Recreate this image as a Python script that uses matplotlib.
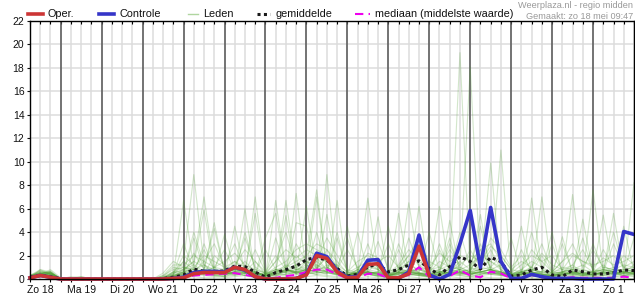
import numpy as np
import matplotlib
matplotlib.use('Agg')
import matplotlib.pyplot as plt
from matplotlib.lines import Line2D

plt.rcParams['font.family'] = ['Liberation Sans', 'DejaVu Sans']

# 6-hourly values, first point = Zo 18 06:00
day_labels = ['Zo 18', 'Ma 19', 'Di 20', 'Wo 21', 'Do 22', 'Vr 23', 'Za 24', 'Zo 25',
              'Ma 26', 'Di 27', 'Wo 28', 'Do 29', 'Vr 30', 'Za 31', 'Zo 1']

oper = [0.1, 0.3, 0.15, 0, 0, 0, 0, 0, 0, 0, 0, 0, 0, 0, 0.05,
        0.1, 0.45, 0.55, 0.55, 0.55, 1.0, 0.8, 0.2, 0, 0, 0, 0.05,
        0.35, 2.0, 1.75, 0.6, 0.1, 0.15, 1.25, 1.3, 0.1, 0.1, 0.45, 2.8, 0.3]

controle = [0.1, 0.3, 0.15, 0, 0, 0, 0, 0, 0, 0, 0, 0, 0, 0, 0.05,
            0.15, 0.55, 0.65, 0.65, 0.6, 1.0, 0.75, 0.2, 0, 0, 0, 0.05,
            0.4, 2.2, 1.9, 0.7, 0.15, 0.2, 1.6, 1.65, 0.1, 0.05, 0.6, 3.75,
            0.35, 0, 0.4, 3.0, 5.85, 1.0, 6.1, 1.5, 0.05, 0.05, 0.4, 0.2,
            0.05, 0.05, 0.05, 0, 0, 0, 0, 4.05, 3.8]

gemiddelde = [0.15, 0.3, 0.2, 0.02, 0, 0, 0, 0, 0, 0, 0, 0, 0, 0.05, 0.15,
              0.35, 0.85, 0.65, 0.62, 0.7, 1.1, 1.05, 0.6, 0.15, 0.55, 0.8, 1.1,
              1.65, 1.85, 1.6, 0.9, 0.25, 0.4, 1.05, 1.25, 0.6, 0.8, 1.2, 1.55,
              0.9, 0.35, 1.05, 1.9, 1.5, 0.85, 1.85, 1.48, 0.25, 0.34, 0.77, 1.0,
              0.34, 0.2, 0.77, 0.62, 0.43, 0.43, 0.54, 0.77, 0.72]

mediaan = [0.1, 0.25, 0.15, 0, 0, 0, 0, 0, 0, 0, 0, 0, 0, 0, 0,
           0.1, 0.3, 0.35, 0.4, 0.45, 0.5, 0.35, 0.2, 0.05, 0.1, 0.25, 0.35,
           0.6, 0.8, 0.8, 0.4, 0.05, 0.1, 0.45, 0.42, 0.1, 0.1, 0.35, 1.0,
           0.2, 0.05, 0.25, 0.75, 0.3, 0.15, 0.62, 0.48, 0.05, 0.1, 0.34, 0.15,
           0.1, 0.05, 0.15, 0.1, 0.1, 0.1, 0.1, 0.2, 0.1]

leden = [
    [0.2, 0.5, 0.3, 0, 0, 0.1, 0, 0, 0, 0, 0, 0, 0, 0.2, 0.6, 1.5, 8.9, 1.2, 0.4, 0.3, 0.8, 1.5, 0.6,
     0.2, 0.5, 1.0, 2.0, 1.2, 0.8, 2.5, 1.0, 0.3, 0.5, 1.2, 0.8, 0.2, 0.6, 1.5, 0.5, 0.3, 0.8, 2.0, 0.6,
     0.4, 1.0, 2.5, 0.8, 0.2, 0.5, 1.0, 0.4, 0.2, 0.6, 1.2, 0.5, 0.3, 0.7, 1.0, 0.6, 0.8],
    [0.1, 0.8, 0.4, 0, 0, 0, 0, 0, 0, 0, 0, 0, 0, 0, 0.3, 6.7, 1.0, 0.5, 0.3, 0.2, 0.5, 6.0, 0.3,
     0.1, 0.4, 0.6, 1.2, 2.0, 7.6, 1.0, 0.5, 0.2, 0.8, 0.5, 0.3, 0.1, 0.4, 6.5, 1.0, 0.5, 0.3, 0.6, 1.5,
     0.8, 2.0, 0.6, 0.3, 0.2, 0.3, 6.9, 0.8, 0.2, 0.4, 0.3, 0.5, 0.6, 1.2, 0.5, 0.3, 0.4],
    [0.3, 0.4, 0.8, 0.1, 0, 0, 0, 0, 0, 0, 0, 0, 0, 0.1, 0.5, 0.8, 1.5, 7.0, 1.0, 0.4, 0.6, 0.3, 7.0,
     0.5, 0.2, 0.8, 0.6, 1.5, 0.6, 0.8, 0.4, 0.2, 0.5, 6.9, 0.7, 0.3, 0.5, 0.8, 0.4, 0.2, 0.5, 1.0, 19.3,
     0.5, 0.6, 0.8, 0.4, 0.1, 0.4, 0.6, 0.3, 0.2, 0.5, 7.2, 0.3, 0.4, 0.6, 0.5, 0.3, 0.5],
    [0.1, 0.3, 0.2, 0, 0.2, 0.1, 0, 0, 0, 0, 0, 0, 0, 0.3, 0.8, 1.0, 0.6, 0.8, 4.8, 0.6, 0.4, 0.3, 0.2,
     0.2, 6.7, 0.8, 0.5, 0.8, 1.2, 0.6, 0.3, 0.2, 0.4, 0.8, 5.3, 0.4, 0.6, 0.3, 0.5, 0.3, 0.4, 0.6, 1.2,
     18.1, 0.6, 0.8, 0.4, 0.3, 0.5, 0.4, 7.0, 0.5, 0.3, 0.6, 0.4, 0.5, 0.3, 0.8, 0.6, 0.4],
    [0.2, 0.6, 0.5, 0, 0, 0, 0, 0, 0, 0, 0, 0, 0, 0, 0.2, 0.5, 3.5, 0.8, 0.6, 3.8, 0.8, 0.5, 0.4,
     0.3, 0.6, 6.7, 0.8, 0.6, 0.4, 8.9, 0.6, 0.3, 0.8, 0.5, 0.2, 0.1, 0.6, 0.4, 6.2, 0.4, 0.6, 0.3, 0.5,
     0.3, 0.8, 9.9, 0.6, 0.2, 0.6, 0.4, 0.3, 0.3, 0.5, 0.4, 0.8, 0.6, 5.45, 0.6, 0.3, 0.5],
    [0.1, 0.2, 0.6, 0, 0, 0.2, 0, 0, 0, 0, 0, 0, 0, 0, 0.4, 3.0, 0.8, 0.5, 0.3, 0.2, 4.5, 0.6, 0.4,
     0.3, 0.5, 0.4, 7.3, 0.6, 0.8, 1.0, 0.5, 0.2, 4.0, 0.6, 0.4, 0.3, 0.5, 0.6, 0.8, 0.5, 6.2, 0.4, 0.6,
     0.4, 0.5, 0.6, 11.0, 0.2, 0.4, 0.6, 0.4, 0.3, 0.4, 0.5, 0.3, 0.4, 0.6, 0.5, 0.4, 8.2],
    [0.2, 0.4, 0.3, 0, 0, 0, 0, 0, 0, 0, 0, 0, 0, 0.2, 1.0, 0.8, 1.2, 5.9, 0.6, 0.4, 0.3, 0.5, 0.6,
     0.2, 0.4, 0.8, 0.6, 6.2, 0.8, 0.6, 0.4, 0.2, 0.4, 0.6, 0.5, 4.5, 0.8, 0.4, 0.3, 0.2, 0.3, 5.0, 0.5,
     0.3, 0.4, 0.6, 0.4, 0.2, 0.4, 0.3, 0.2, 0.2, 0.3, 0.5, 5.1, 0.6, 0.4, 0.3, 0.5, 0.6],
    [0.1, 0.5, 0.4, 0, 0, 0, 0, 0, 0, 0, 0, 0, 0, 0, 0.1, 0.4, 0.6, 0.8, 4.3, 0.6, 0.5, 4.0, 0.8,
     0.5, 0.3, 0.4, 0.6, 0.8, 7.0, 0.8, 0.5, 4.5, 0.6, 0.4, 0.3, 0.2, 5.6, 0.6, 0.4, 0.3, 0.4, 0.6, 0.4,
     0.6, 5.5, 0.4, 0.3, 0.2, 4.5, 0.6, 0.4, 0.3, 0.5, 0.4, 0.3, 7.6, 0.6, 0.4, 0.5, 0.6],
    [0.3, 0.6, 0.4, 0, 0, 0, 0, 0, 0, 0, 0, 0, 0, 0, 0.3, 0.6, 0.8, 2.5, 0.8, 0.6, 0.8, 0.6, 5.6,
     0.3, 0.6, 5.4, 0.4, 0.5, 0.6, 5.5, 0.8, 0.3, 0.6, 0.5, 0.4, 0.3, 0.4, 0.8, 0.6, 4.0, 0.6, 0.5, 0.4,
     0.6, 0.8, 6.0, 0.5, 3.5, 0.5, 0.3, 0.2, 0.3, 0.4, 0.6, 0.5, 0.4, 0.5, 5.6, 0.4, 0.5],
    [0.2, 0.3, 0.5, 0, 0.1, 0.2, 0, 0, 0, 0, 0, 0, 0, 0.1, 0.6, 0.6, 0.5, 0.4, 0.6, 0.5, 0.4, 0.6, 0.4,
     3.5, 5.6, 0.6, 0.4, 0.4, 0.6, 0.4, 6.7, 0.3, 0.5, 0.4, 0.6, 0.4, 0.6, 0.4, 0.5, 0.3, 0.5, 0.4, 0.6,
     0.4, 0.6, 0.5, 0.4, 0.3, 0.4, 0.5, 0.6, 4.0, 0.5, 0.4, 0.3, 0.4, 0.5, 0.4, 4.5, 0.6],
    [0.2, 0.5, 0.6, 0, 0, 0, 0, 0, 0, 0, 0, 0, 0, 0, 0.2, 0.3, 0.5, 0.8, 0.6, 0.4, 0.6, 0.5, 0.4,
     0.3, 0.4, 0.6, 4.8, 4.5, 0.6, 0.5, 0.4, 0.3, 0.4, 0.5, 0.6, 0.3, 0.5, 0.6, 0.4, 0.2, 0.4, 0.5, 0.6,
     0.5, 0.4, 0.6, 0.5, 0.3, 0.5, 0.6, 0.4, 0.3, 3.6, 0.5, 0.4, 0.3, 0.4, 0.5, 0.6, 0.5],
    [0.1, 0.2, 0.2, 0, 0, 0, 0, 0, 0, 0, 0, 0, 0, 0, 0, 0.2, 0.4, 0.3, 0.2, 0.4, 0.6, 0.3, 0.2,
     0.2, 0.4, 0.3, 0.5, 0.6, 0.4, 0.3, 0.2, 0.1, 0.3, 0.4, 0.2, 0.2, 0.3, 0.5, 0.3, 0.2, 0.3, 0.4, 0.3,
     0.2, 0.3, 0.4, 0.3, 0.1, 0.3, 0.2, 0.2, 0.2, 0.3, 0.2, 0.3, 0.2, 0.3, 0.2, 0.3, 0.3],
    [0.3, 0.7, 0.5, 0, 0, 0, 0, 0, 0, 0, 0, 0, 0, 0.3, 1.2, 1.2, 2.0, 1.5, 1.0, 1.5, 2.2, 1.2, 0.8,
     0.5, 1.5, 2.5, 1.8, 2.5, 2.0, 1.5, 1.2, 0.6, 1.5, 2.0, 1.4, 0.5, 1.2, 2.5, 1.5, 1.0, 2.2, 1.5, 2.0,
     1.5, 2.5, 3.0, 1.5, 0.5, 1.2, 2.0, 1.5, 0.6, 1.5, 2.2, 1.5, 1.0, 1.8, 1.2, 1.5, 2.0],
    [0.2, 0.4, 0.6, 0, 0, 0, 0, 0, 0, 0, 0, 0, 0, 0, 0.5, 0.8, 1.5, 1.0, 0.6, 0.8, 1.2, 2.5, 1.5,
     0.4, 1.0, 1.5, 2.5, 3.0, 2.5, 2.0, 1.0, 0.4, 0.8, 2.2, 1.8, 0.3, 0.8, 1.5, 3.0, 1.5, 1.0, 2.5, 1.2,
     2.0, 1.5, 2.8, 2.0, 0.8, 1.5, 1.0, 2.2, 1.2, 0.8, 2.0, 1.5, 1.2, 1.5, 2.0, 1.0, 1.5],
    [0.2, 0.3, 0.4, 0, 0, 0, 0, 0, 0, 0, 0, 0, 0, 0.2, 0.4, 0.6, 1.0, 2.0, 1.5, 1.0, 1.5, 1.0, 0.6,
     0.3, 0.8, 1.0, 1.5, 2.0, 3.0, 2.5, 1.5, 0.5, 1.0, 1.5, 1.0, 0.4, 1.0, 2.0, 1.2, 0.6, 1.5, 1.0, 0.8,
     1.2, 2.0, 1.5, 1.0, 0.4, 0.8, 1.5, 1.0, 0.5, 1.0, 0.8, 1.2, 0.6, 1.0, 0.8, 1.2, 1.0],
    [0.2, 0.5, 0.3, 0, 0, 0, 0, 0, 0, 0, 0, 0, 0, 0.5, 1.5, 1.0, 0.8, 1.2, 0.8, 0.6, 1.0, 0.8, 0.5,
     0.4, 0.8, 0.6, 1.0, 1.5, 1.0, 1.8, 0.8, 0.3, 0.6, 1.0, 0.8, 0.2, 0.8, 1.2, 0.8, 0.5, 0.8, 1.2, 0.8,
     0.6, 1.2, 1.5, 0.8, 0.3, 0.6, 0.8, 0.6, 0.4, 0.6, 1.0, 0.8, 0.5, 0.8, 0.6, 0.8, 1.0],
    [0.1, 0.4, 0.7, 0, 0, 0, 0, 0, 0, 0, 0, 0, 0, 0, 0.3, 0.5, 0.6, 0.4, 2.0, 1.2, 3.0, 0.8, 0.5,
     0.2, 0.6, 1.2, 0.8, 1.0, 1.5, 3.5, 2.0, 0.8, 0.5, 0.6, 1.5, 2.0, 1.0, 0.6, 0.8, 0.5, 2.5, 0.8, 0.6,
     0.8, 1.0, 3.5, 2.5, 1.0, 2.0, 0.8, 0.6, 0.6, 1.5, 3.0, 1.0, 2.5, 1.0, 0.8, 2.0, 1.2],
    [0.3, 0.5, 0.2, 0, 0, 0, 0, 0, 0, 0, 0, 0, 0, 0, 0.2, 0.4, 2.2, 0.8, 0.5, 0.3, 0.5, 0.6, 1.5,
     0.6, 2.0, 0.8, 0.5, 0.8, 0.6, 1.2, 0.8, 2.5, 1.0, 0.6, 0.4, 0.3, 3.0, 1.0, 0.5, 0.4, 0.6, 3.0, 1.0,
     0.6, 0.8, 1.0, 2.0, 0.8, 0.6, 2.5, 1.5, 2.0, 0.8, 0.6, 0.5, 0.6, 2.5, 1.0, 0.6, 0.8],
    [0.2, 0.6, 0.5, 0, 0, 0, 0, 0, 0, 0, 0, 0, 0, 0, 0.1, 0.3, 0.4, 0.6, 0.4, 0.5, 0.8, 1.0, 0.6,
     0.3, 0.5, 0.8, 1.2, 0.8, 1.0, 0.6, 0.4, 0.2, 0.4, 0.8, 0.6, 0.3, 0.4, 0.6, 0.4, 0.2, 0.4, 0.6, 0.8,
     0.4, 0.6, 0.8, 0.6, 0.2, 0.4, 0.6, 0.5, 0.3, 0.4, 0.6, 0.4, 0.3, 0.5, 0.4, 0.6, 0.5],
    [0.1, 0.3, 0.3, 0, 0, 0, 0, 0, 0, 0, 0, 0, 0, 0, 0.1, 0.3, 0.5, 0.4, 0.3, 0.2, 0.3, 0.5, 0.4,
     0.1, 0.3, 0.4, 0.6, 0.5, 0.4, 0.8, 0.6, 0.1, 0.3, 0.4, 0.3, 0.1, 0.2, 0.4, 0.3, 0.1, 0.3, 0.4, 0.3,
     0.2, 0.4, 0.5, 0.4, 0.1, 0.2, 0.3, 0.2, 0.1, 0.2, 0.3, 0.2, 0.2, 0.3, 0.2, 0.3, 0.2],
    [0.2, 0.4, 0.5, 0, 0, 0, 0, 0, 0, 0, 0, 0, 0, 0, 0.4, 2.0, 1.2, 0.6, 0.8, 0.6, 0.8, 3.5, 1.0,
     0.5, 0.8, 0.6, 3.0, 1.5, 1.2, 0.8, 0.6, 0.3, 0.6, 3.0, 0.8, 0.4, 0.8, 0.6, 1.0, 0.8, 1.0, 0.6, 0.8,
     2.5, 1.0, 0.8, 1.2, 0.4, 0.6, 1.0, 3.0, 0.6, 0.8, 1.2, 2.5, 0.8, 0.6, 3.0, 1.0, 0.8],
    [0.2, 0.5, 0.4, 0, 0, 0, 0, 0, 0, 0, 0, 0, 0, 0, 0.2, 0.6, 4.0, 1.2, 0.6, 0.4, 0.6, 0.5, 0.4,
     2.5, 0.8, 0.5, 0.6, 0.8, 0.6, 0.5, 3.5, 0.6, 0.4, 0.6, 0.5, 0.3, 0.6, 3.5, 1.0, 0.5, 0.6, 0.8, 4.0,
     1.0, 0.6, 0.8, 0.5, 0.4, 2.5, 0.6, 0.4, 0.5, 0.6, 0.8, 0.6, 0.4, 0.6, 0.8, 0.6, 3.5],
    [0.3, 0.8, 0.6, 0, 0, 0.1, 0, 0, 0, 0, 0, 0, 0, 0, 0.3, 0.6, 0.8, 0.6, 1.0, 0.8, 1.5, 0.6, 0.4,
     0.3, 0.6, 0.8, 0.5, 0.6, 1.5, 0.8, 0.4, 0.3, 0.5, 0.6, 0.4, 0.3, 0.6, 0.8, 0.5, 0.4, 0.6, 0.5, 0.6,
     0.5, 0.6, 0.8, 0.6, 0.3, 0.6, 0.5, 0.4, 0.3, 0.6, 0.4, 0.5, 0.4, 0.6, 0.5, 0.6, 0.5],
    [0.1, 0.2, 0.1, 0, 0, 0, 0, 0, 0, 0, 0, 0, 0, 0, 0, 0.1, 0.2, 0.1, 0.1, 0.1, 0.2, 0.3, 0.1,
     0, 0.1, 0.2, 0.1, 0.2, 0.3, 0.2, 0.1, 0, 0.1, 0.2, 0.1, 0, 0.1, 0.2, 0.1, 0, 0.1, 0.2, 0.1,
     0.1, 0.2, 0.1, 0.1, 0, 0.1, 0.1, 0, 0, 0.1, 0.1, 0, 0, 0.1, 0.1, 0.1, 0],
    [0.2, 0.3, 0.4, 0, 0, 0, 0, 0, 0, 0, 0, 0, 0, 0, 0.6, 1.0, 0.8, 0.6, 0.5, 0.4, 0.6, 0.8, 0.6,
     0.4, 1.5, 4.0, 1.0, 0.6, 1.8, 0.8, 0.6, 0.4, 0.6, 0.8, 3.2, 0.8, 0.6, 0.5, 0.4, 0.4, 0.6, 0.8, 1.0,
     0.6, 2.5, 1.0, 0.6, 0.4, 0.6, 4.0, 0.8, 0.5, 0.6, 0.8, 3.5, 0.6, 0.8, 0.6, 0.5, 1.2],
    [0.1, 0.3, 0.5, 0, 0, 0, 0, 0, 0, 0, 0, 0, 0, 0, 0.2, 0.5, 0.4, 3.0, 0.8, 0.6, 0.4, 0.5, 2.5,
     0.6, 0.5, 0.6, 0.8, 1.2, 0.8, 0.6, 4.0, 0.6, 0.4, 0.6, 0.5, 0.4, 2.5, 0.6, 0.5, 0.5, 3.0, 0.6, 0.5,
     0.4, 0.6, 0.8, 0.5, 0.4, 0.8, 0.6, 2.0, 0.6, 3.0, 0.6, 0.4, 0.6, 0.8, 0.6, 0.5, 0.6],
    [0.2, 0.4, 0.3, 0, 0, 0, 0, 0, 0, 0, 0, 0, 0, 0.1, 0.3, 0.4, 0.6, 0.5, 0.4, 0.6, 0.8, 0.6, 0.5,
     0.4, 0.6, 0.8, 0.6, 0.8, 0.6, 0.5, 0.4, 0.3, 0.5, 0.4, 0.3, 0.3, 0.4, 0.6, 0.5, 0.3, 0.6, 0.8, 0.5,
     0.6, 0.5, 0.4, 0.6, 0.3, 0.4, 0.5, 0.4, 0.3, 0.5, 0.6, 0.4, 0.4, 0.5, 0.6, 0.5, 0.4],
    [0.2, 0.7, 0.4, 0, 0, 0, 0, 0, 0, 0, 0, 0, 0, 0, 0.2, 0.8, 0.6, 1.5, 3.0, 1.0, 0.6, 0.8, 0.5,
     0.3, 3.5, 0.8, 0.6, 0.6, 0.8, 2.0, 1.0, 3.5, 0.8, 0.6, 0.5, 0.4, 0.8, 2.0, 3.5, 0.8, 0.6, 0.5, 0.8,
     0.6, 3.0, 0.8, 0.6, 0.5, 0.6, 0.8, 0.5, 3.0, 0.6, 0.5, 0.6, 0.6, 0.8, 4.0, 0.8, 0.6],
    [0.3, 0.5, 0.6, 0, 0, 0, 0, 0, 0, 0, 0, 0, 0, 0, 0.3, 1.5, 0.8, 0.6, 1.0, 2.5, 0.8, 0.6, 0.5,
     0.4, 0.8, 0.6, 0.8, 0.8, 4.0, 1.0, 0.6, 0.4, 0.6, 1.5, 0.8, 3.0, 0.8, 0.6, 0.5, 0.6, 0.8, 3.5, 0.6,
     0.8, 4.5, 0.8, 0.6, 0.4, 0.6, 0.8, 0.6, 0.5, 0.6, 0.8, 0.6, 3.0, 0.8, 0.6, 0.8, 0.6],
    [0.2, 0.4, 0.5, 0, 0, 0, 0, 0, 0, 0, 0, 0, 0, 0, 0.2, 0.4, 0.6, 0.8, 0.5, 0.4, 0.6, 0.8, 0.6,
     0.3, 0.6, 0.8, 0.5, 0.6, 0.8, 0.6, 0.5, 0.3, 0.5, 0.6, 0.4, 0.3, 0.5, 0.4, 0.3, 0.3, 0.5, 0.6, 0.4,
     0.4, 0.6, 0.5, 0.4, 0.3, 0.4, 0.5, 0.3, 0.3, 0.4, 0.5, 0.3, 0.4, 0.5, 0.4, 0.5, 0.4],
]

hours = 6 + 6 * np.arange(len(controle))

W, H = 635, 300
fig = plt.figure(figsize=(W / 100, H / 100), dpi=100)
ax = fig.add_axes([30 / W, 21 / H, 604 / W, 258 / H])

# background grid: light 6-hourly / 2 mm, dark at midnight
for h in range(6, 361, 6):
    ax.axvline(h, color='#dcdcdc', lw=1.1, zorder=0)
for v in range(2, 22, 2):
    ax.axhline(v, color='#dcdcdc', lw=1.1, zorder=0)
for h in range(24, 360, 24):
    ax.axvline(h, color='#555555', lw=1.1, zorder=1)

for m in leden:
    ax.plot(hours, m, color='#4e9e30', alpha=0.25, lw=0.8, zorder=2)

ax.plot(hours, mediaan, color='#ee00ee', lw=1.5, ls=(0, (4, 2.5)), zorder=3, clip_on=False)
ax.plot(hours, gemiddelde, color='#1a1a1a', lw=2.2, ls=(0, (1, 1.1)), zorder=4, clip_on=False)
ax.plot(hours, controle, color='#3535c8', lw=2.6, zorder=5, clip_on=False)
ax.plot(hours[:len(oper)], oper, color='#cc3535', lw=2.6, zorder=6, clip_on=False)

ax.set_xlim(6, 360)
ax.set_ylim(0, 22)
ax.set_yticks(range(0, 23, 2))
ax.set_xticks(np.arange(12, 360, 24))
ax.set_xticklabels(day_labels)
ax.set_xticks(np.arange(6, 361, 6), minor=True)
ax.tick_params(axis='x', which='major', length=0, pad=4.5, labelsize=7.5, colors='#111111')
ax.tick_params(axis='x', which='minor', length=2.5, width=0.8, direction='out')
ax.tick_params(axis='y', length=2.5, width=0.8, pad=1.5, labelsize=7.5, colors='#111111')
for s in ax.spines.values():
    s.set_linewidth(1.0)
    s.set_zorder(7)

top = ax.secondary_xaxis('top')
top.set_xticks(np.arange(6, 361, 6))
top.tick_params(length=2.5, width=0.8, direction='in', labeltop=False)
top.spines['top'].set_visible(False)


def fx(px):
    return px / W


def fy(py):
    return 1 - py / H


ly = 14
items = [(28, 43, 'Oper.', dict(color='#cc3535', lw=2.6)),
         (99, 114, 'Controle', dict(color='#3535c8', lw=2.6)),
         (188, 198, 'Leden', dict(color='#b0d6a0', lw=1.0)),
         (257, 270, 'gemiddelde', dict(color='#1a1a1a', lw=2.2, ls=(0, (1, 1.1)))),
         (355, 370, 'mediaan (middelste waarde)', dict(color='#ee00ee', lw=1.5, ls=(0, (4, 2.5))))]
for x0, x1, label, style in items:
    fig.add_artist(Line2D([fx(x0), fx(x1)], [fy(ly), fy(ly)], **style))
    fig.text(fx(x1 + 5), fy(ly), label, va='center', ha='left', fontsize=7.8, color='#111111')

fig.text(fx(633), fy(5), 'Weerplaza.nl - regio midden', ha='right', va='center',
         fontsize=6.6, color='#999999')
fig.text(fx(633), fy(16.5), 'Gemaakt: zo 18 mei 09:47', ha='right', va='center',
         fontsize=6.6, color='#999999')

fig.savefig('out.png', dpi=100)
